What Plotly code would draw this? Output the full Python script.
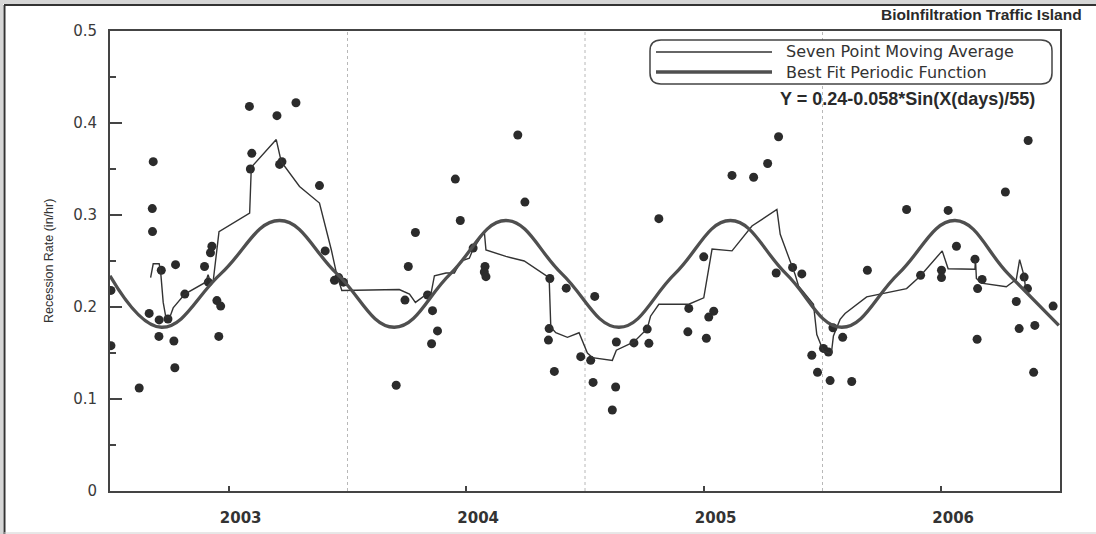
import plotly.graph_objects as go

# ---------------- data ----------------
obs_year = [2003.004, 2003.004, 2003.123, 2003.165, 2003.178, 2003.179, 2003.182, 2003.206,
            2003.207, 2003.216, 2003.244, 2003.269, 2003.273, 2003.276, 2003.315, 2003.398,
            2003.414, 2003.423, 2003.429, 2003.450, 2003.458, 2003.466, 2003.587, 2003.591,
            2003.597, 2003.703, 2003.714, 2003.724, 2003.783, 2003.882, 2003.906, 2003.945,
            2003.963, 2003.983,
            2004.205, 2004.242, 2004.256, 2004.286, 2004.337, 2004.354, 2004.358, 2004.379,
            2004.454, 2004.475, 2004.529, 2004.576, 2004.579, 2004.583, 2004.717, 2004.747,
            2004.846, 2004.849, 2004.852, 2004.871, 2004.921, 2004.982,
            2005.024, 2005.034, 2005.041, 2005.115, 2005.129, 2005.132, 2005.206, 2005.262,
            2005.269, 2005.311, 2005.433, 2005.437, 2005.500, 2005.511, 2005.521, 2005.542,
            2005.619, 2005.710, 2005.769, 2005.805, 2005.815, 2005.874, 2005.913, 2005.955,
            2005.979,
            2006.004, 2006.025, 2006.032, 2006.044, 2006.085, 2006.123, 2006.189, 2006.354,
            2006.413, 2006.501, 2006.501, 2006.529, 2006.564, 2006.642, 2006.651, 2006.653,
            2006.672, 2006.770, 2006.816, 2006.828, 2006.849, 2006.863, 2006.866, 2006.889,
            2006.894, 2006.971]
obs_rate = [0.218, 0.158, 0.112, 0.193, 0.307, 0.282, 0.358, 0.168,
            0.186, 0.240, 0.187, 0.163, 0.134, 0.246, 0.214, 0.244,
            0.227, 0.259, 0.266, 0.207, 0.168, 0.201, 0.418, 0.350,
            0.367, 0.408, 0.355, 0.358, 0.422, 0.332, 0.261, 0.229,
            0.232, 0.227,
            0.115, 0.2075, 0.244, 0.281, 0.213, 0.160, 0.196, 0.174,
            0.339, 0.294, 0.264, 0.238, 0.244, 0.233, 0.387, 0.314,
            0.164, 0.1765, 0.231, 0.130, 0.2205, 0.146,
            0.142, 0.118, 0.2115, 0.088, 0.113, 0.162, 0.161, 0.176,
            0.1605, 0.296, 0.173, 0.1985, 0.2545, 0.166, 0.189, 0.1955,
            0.343, 0.341, 0.356, 0.237, 0.385, 0.243, 0.236, 0.1475,
            0.129,
            0.155, 0.151, 0.120, 0.1775, 0.167, 0.119, 0.240, 0.306,
            0.2345, 0.240, 0.232, 0.305, 0.266, 0.252, 0.165, 0.220,
            0.230, 0.325, 0.206, 0.1765, 0.2325, 0.220, 0.381, 0.129,
            0.180, 0.201]

ma_year = [2003.171, 2003.182, 2003.207, 2003.213, 2003.224, 2003.235, 2003.252, 2003.266,
           2003.315, 2003.403, 2003.413, 2003.423, 2003.434, 2003.459, 2003.588, 2003.595,
           2003.700, 2003.721, 2003.798, 2003.882, 2003.932, 2003.955, 2003.976,
           2004.218, 2004.261, 2004.286, 2004.333, 2004.352, 2004.366, 2004.415, 2004.450,
           2004.478, 2004.513, 2004.529, 2004.576, 2004.583, 2004.667, 2004.744, 2004.849,
           2004.856, 2004.877, 2004.926, 2004.975,
           2005.010, 2005.031, 2005.115, 2005.132, 2005.206, 2005.262, 2005.276, 2005.311,
           2005.437, 2005.500, 2005.535, 2005.619, 2005.703, 2005.808, 2005.822, 2005.885,
           2005.899, 2005.962, 2005.976,
           2006.004, 2006.037, 2006.046, 2006.074, 2006.095, 2006.186, 2006.354, 2006.411,
           2006.504, 2006.529, 2006.642, 2006.644, 2006.648, 2006.669, 2006.774, 2006.816,
           2006.830, 2006.849, 2006.854]
ma_rate = [0.232, 0.247, 0.247, 0.239, 0.205, 0.189, 0.189, 0.199,
           0.214, 0.227, 0.235, 0.227, 0.227, 0.282, 0.302, 0.352,
           0.382, 0.358, 0.331, 0.313, 0.262, 0.235, 0.218,
           0.219, 0.214, 0.205, 0.214, 0.215, 0.234, 0.237, 0.237,
           0.250, 0.253, 0.263, 0.282, 0.262, 0.255, 0.250, 0.232,
           0.178, 0.172, 0.167, 0.172,
           0.150, 0.145, 0.142, 0.153, 0.162, 0.1765, 0.190, 0.203,
           0.203, 0.210, 0.263, 0.261, 0.288, 0.306, 0.279, 0.235,
           0.223, 0.203, 0.170,
           0.152, 0.149, 0.1685, 0.1865, 0.193, 0.211, 0.220, 0.2335,
           0.261, 0.2415, 0.241, 0.2525, 0.231, 0.226, 0.222, 0.230,
           0.2515, 0.2335, 0.2225]

fit_year = [2003.000, 2003.217, 2003.466, 2003.714, 2003.956, 2004.197, 2004.433, 2004.667,
            2004.903, 2005.143, 2005.378, 2005.612, 2005.847, 2006.081, 2006.319, 2006.558,
            2006.782, 2006.995]
fit_rate = [0.234, 0.178, 0.236, 0.294, 0.236, 0.178, 0.236, 0.294,
            0.236, 0.178, 0.236, 0.294, 0.236, 0.178, 0.236, 0.294,
            0.236, 0.180]

year_labels = ["2003", "2004", "2005", "2006"]
year_starts = [2003, 2004, 2005, 2006, 2007]

title_text = "BioInfiltration Traffic Island"
legend_texts = ["Seven Point Moving Average", "Best Fit Periodic Function"]
equation_text = "Y = 0.24-0.058*Sin(X(days)/55)"
y_title = "Recession Rate (in/hr)"

# ---------------- layout geometry (pixels) ----------------
W, H = 1096, 534
L, R, T, B = 110, 1060, 31, 491


def xp(px):
    return (px - L) / (R - L)


def yp(py):
    return (B - py) / (B - T)


fig = go.Figure()

fig.add_trace(go.Scatter(
    x=obs_year, y=obs_rate, mode="markers",
    marker=dict(size=9, color="#2b2b2b"),
    showlegend=False, hoverinfo="x+y"))

fig.add_trace(go.Scatter(
    x=ma_year, y=ma_rate, mode="lines",
    line=dict(color="#333333", width=1.4),
    name=legend_texts[0], showlegend=False))

fig.add_trace(go.Scatter(
    x=fit_year, y=fit_rate, mode="lines",
    line=dict(color="#4f4f4f", width=3.3, shape="spline", smoothing=1.2),
    name=legend_texts[1], showlegend=False))

shapes = []
# dotted vertical gridlines at year boundaries
for yr in year_starts[1:-1]:
    shapes.append(dict(type="line", xref="x", yref="paper", x0=yr, x1=yr, y0=0, y1=1,
                       line=dict(color="#b8b8b8", width=1, dash="dot"), layer="below"))

# outer frame
shapes.append(dict(type="rect", xref="paper", yref="paper", x0=xp(0), x1=xp(W), y0=yp(0), y1=yp(4),
                   fillcolor="#d6d6d6", line=dict(width=0), layer="below"))
shapes.append(dict(type="rect", xref="paper", yref="paper", x0=xp(0), x1=xp(3), y0=yp(0), y1=yp(H),
                   fillcolor="#d6d6d6", line=dict(width=0), layer="below"))
shapes.append(dict(type="line", xref="paper", yref="paper", x0=xp(4), x1=xp(W), y0=yp(5), y1=yp(5),
                   line=dict(color="#333333", width=2)))
shapes.append(dict(type="line", xref="paper", yref="paper", x0=xp(4.5), x1=xp(4.5), y0=yp(5), y1=yp(H),
                   line=dict(color="#333333", width=2)))
shapes.append(dict(type="line", xref="paper", yref="paper", x0=xp(4), x1=xp(W), y0=yp(533), y1=yp(533),
                   line=dict(color="#d0d0d0", width=1)))

# legend box (rounded)
bx0, by0, bx1, by1, rr = 650, 40, 1052, 84, 11


def P(px, py):
    return f"{xp(px):.5f},{yp(py):.5f}"


path = (f"M {P(bx0 + rr, by0)} L {P(bx1 - rr, by0)} Q {P(bx1, by0)} {P(bx1, by0 + rr)} "
        f"L {P(bx1, by1 - rr)} Q {P(bx1, by1)} {P(bx1 - rr, by1)} "
        f"L {P(bx0 + rr, by1)} Q {P(bx0, by1)} {P(bx0, by1 - rr)} "
        f"L {P(bx0, by0 + rr)} Q {P(bx0, by0)} {P(bx0 + rr, by0)} Z")
shapes.append(dict(type="path", xref="paper", yref="paper", path=path,
                   fillcolor="white", line=dict(color="#444444", width=1.5)))
shapes.append(dict(type="line", xref="paper", yref="paper", x0=xp(656), x1=xp(772), y0=yp(52), y1=yp(52),
                   line=dict(color="#333333", width=1.4)))
shapes.append(dict(type="line", xref="paper", yref="paper", x0=xp(656), x1=xp(772), y0=yp(72), y1=yp(72),
                   line=dict(color="#4f4f4f", width=3.4)))

annotations = [
    dict(text=title_text, xref="paper", yref="paper", x=xp(1084), y=yp(14), xanchor="right", yanchor="middle",
         showarrow=False, font=dict(family="Liberation Sans", size=15.5, color="#2a2a2a", weight="bold")),
    dict(text="<br>".join(legend_texts), xref="paper", yref="paper", x=xp(784), y=yp(62),
         xanchor="left", yanchor="middle", align="left", showarrow=False,
         font=dict(family="DejaVu Sans", size=16, color="#333333")),
    dict(text=equation_text, xref="paper", yref="paper", x=xp(778), y=yp(99), xanchor="left",
         yanchor="middle", showarrow=False,
         font=dict(family="Liberation Sans", size=18, color="#2a2a2a", weight="bold")),
    dict(text=y_title, xref="paper", yref="paper", x=xp(49), y=yp(261), xanchor="center",
         yanchor="middle", textangle=-90, showarrow=False,
         font=dict(family="Liberation Sans", size=12.5, color="#333333")),
]

fig.update_layout(
    width=W, height=H,
    margin=dict(l=L, r=W - R, t=T, b=H - B, pad=0, autoexpand=False),
    paper_bgcolor="white", plot_bgcolor="white",
    shapes=shapes, annotations=annotations,
    showlegend=False,
    xaxis=dict(range=[2003, 2007], showgrid=False, zeroline=False, automargin=False,
               showline=True, mirror=True, linecolor="#444444", linewidth=2,
               tickvals=[y + 0.55 for y in year_starts[:-1]], ticktext=year_labels,
               ticks="", ticklabelstandoff=12,
               tickfont=dict(family="DejaVu Sans", size=15, color="#333333", weight="bold"),
               minor=dict(tickvals=[y + 0.5 for y in year_starts[:-1]], ticks="inside", ticklen=5,
                          tickcolor="#444444", tickwidth=1.5, showgrid=False)),
    yaxis=dict(range=[0, 0.5], dtick=0.1, showgrid=False, zeroline=False, automargin=False,
               showline=True, mirror=True, linecolor="#444444", linewidth=2,
               ticks="inside", ticklen=12, tickcolor="#444444", tickwidth=1.5,
               ticklabelstandoff=8,
               tickfont=dict(family="DejaVu Sans", size=15, color="#3a3a3a"),
               minor=dict(dtick=0.05, ticks="inside", ticklen=6, tickcolor="#444444", tickwidth=1.5,
                          showgrid=False)),
)

fig.write_html("out.html")
